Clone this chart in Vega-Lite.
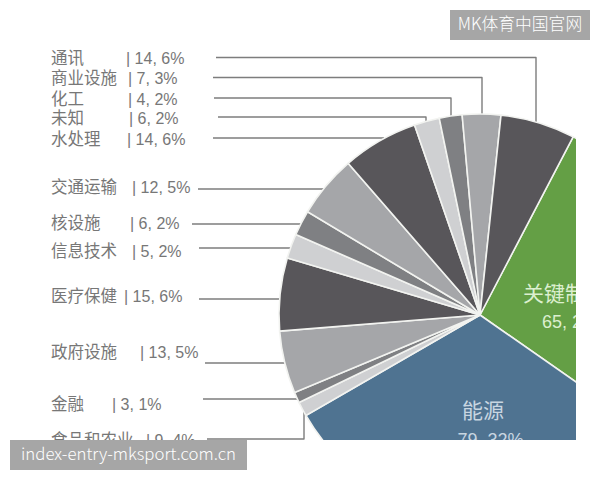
{"$schema":"https://vega.github.io/schema/vega-lite/v6.json","width":576,"height":440,"padding":{"left":0,"top":0,"right":24,"bottom":40},"autosize":{"type":"none"},"background":"#ffffff","config":{"view":{"stroke":null}},
"datasets":{
"slices":[
{"ord":1,"name":"关键制造业","value":65,"pct":26,"span":97.3},
{"ord":2,"name":"能源","value":79,"pct":32,"span":115.1},
{"ord":3,"name":"食品和农业","value":9,"pct":4,"span":4.2},
{"ord":4,"name":"金融","value":3,"pct":1,"span":3.1},
{"ord":5,"name":"政府设施","value":13,"pct":5,"span":18.1},
{"ord":6,"name":"医疗保健","value":15,"pct":6,"span":21.1},
{"ord":7,"name":"信息技术","value":5,"pct":2,"span":7.1},
{"ord":8,"name":"核设施","value":6,"pct":2,"span":7.3},
{"ord":9,"name":"交通运输","value":12,"pct":5,"span":18.1},
{"ord":10,"name":"水处理","value":14,"pct":6,"span":22},
{"ord":11,"name":"未知","value":6,"pct":2,"span":7.3},
{"ord":12,"name":"化工","value":4,"pct":2,"span":6.6},
{"ord":13,"name":"商业设施","value":7,"pct":3,"span":11.1},
{"ord":14,"name":"通讯","value":14,"pct":6,"span":21.6}],
"labels":[
{"name":"通讯","text":"| 14, 6%","nameY":59,"valueX":126},
{"name":"商业设施","text":"| 7, 3%","nameY":79,"valueX":128},
{"name":"化工","text":"| 4, 2%","nameY":100,"valueX":128},
{"name":"未知","text":"| 6, 2%","nameY":119,"valueX":129},
{"name":"水处理","text":"| 14, 6%","nameY":140,"valueX":127},
{"name":"交通运输","text":"| 12, 5%","nameY":188,"valueX":132},
{"name":"核设施","text":"| 6, 2%","nameY":224,"valueX":130},
{"name":"信息技术","text":"| 5, 2%","nameY":252,"valueX":132},
{"name":"医疗保健","text":"| 15, 6%","nameY":297,"valueX":124},
{"name":"政府设施","text":"| 13, 5%","nameY":353,"valueX":140},
{"name":"金融","text":"| 3, 1%","nameY":405,"valueX":112},
{"name":"食品和农业","text":"| 9, 4%","nameY":441,"valueX":146}],
"leaders":[
{"name":"通讯","lx":216,"ly":57.5,"o":1},{"name":"通讯","lx":536,"ly":57.5,"o":2},{"name":"通讯","lx":536,"ly":122,"o":3},
{"name":"商业设施","lx":213,"ly":77.5,"o":1},{"name":"商业设施","lx":482,"ly":77.5,"o":2},{"name":"商业设施","lx":482,"ly":116,"o":3},
{"name":"化工","lx":214,"ly":98,"o":1},{"name":"化工","lx":451,"ly":98,"o":2},{"name":"化工","lx":451,"ly":118,"o":3},
{"name":"未知","lx":218,"ly":117,"o":1},{"name":"未知","lx":426,"ly":117,"o":2},{"name":"未知","lx":426,"ly":124,"o":3},
{"name":"水处理","lx":213,"ly":138,"o":1},{"name":"水处理","lx":384,"ly":138,"o":2},
{"name":"交通运输","lx":198,"ly":189,"o":1},{"name":"交通运输","lx":326,"ly":189,"o":2},
{"name":"核设施","lx":192,"ly":224,"o":1},{"name":"核设施","lx":302,"ly":224,"o":2},
{"name":"信息技术","lx":199,"ly":248,"o":1},{"name":"信息技术","lx":292,"ly":248,"o":2},
{"name":"医疗保健","lx":199,"ly":299,"o":1},{"name":"医疗保健","lx":282,"ly":299,"o":2},
{"name":"政府设施","lx":205,"ly":363,"o":1},{"name":"政府设施","lx":286,"ly":363,"o":2},
{"name":"金融","lx":203,"ly":399,"o":1},{"name":"金融","lx":300,"ly":399,"o":2},
{"name":"食品和农业","lx":207,"ly":439,"o":1},{"name":"食品和农业","lx":304,"ly":439,"o":2},{"name":"食品和农业","lx":304,"ly":412,"o":3}],
"innerNames":[
{"text":"关键制造业","cx":575.5,"cy":295,"kind":"g"},
{"text":"能源","cx":483,"cy":412,"kind":"b"}],
"innerValues":[
{"text":"65, 26%","cx":575,"cy":323,"kind":"g"},
{"text":"79, 32%","cx":490.5,"cy":441,"kind":"b"}],
"marks":[
{"text":"MK体育中国官网","x0":450,"x1":590,"y0":10,"y1":40,"cx":520,"cy":25},
{"text":"index-entry-mksport.com.cn","x0":10,"x1":247,"y0":440,"y1":470,"cx":128.5,"cy":455}]
},
"resolve":{"scale":{"color":"independent"}},
"encoding":{
"x":{"type":"quantitative","scale":{"domain":[0,576],"range":[0,576],"nice":false,"zero":false},"axis":null},
"y":{"type":"quantitative","scale":{"domain":[0,440],"range":[0,440],"nice":false,"zero":false},"axis":null}},
"layer":[
{"data":{"name":"leaders"},"mark":{"type":"line","stroke":"#7d7d7d","strokeWidth":1.4,"strokeJoin":"round"},
"encoding":{"x":{"field":"lx","type":"quantitative"},"y":{"field":"ly","type":"quantitative"},"detail":{"field":"name"},"order":{"field":"o"}}},
{"data":{"name":"slices"},"mark":{"type":"arc","outerRadius":201,"stroke":"#f2f3f0","strokeWidth":1.6,"clip":true},
"encoding":{"x":{"datum":480,"type":"quantitative"},"y":{"datum":315,"type":"quantitative"},
"theta":{"field":"span","type":"quantitative","stack":true,"scale":{"domain":[0,360],"range":[0.4817,6.7649]}},
"order":{"field":"ord"},
"color":{"field":"name","type":"nominal","legend":null,"scale":{"domain":["关键制造业","能源","食品和农业","金融","政府设施","医疗保健","信息技术","核设施","交通运输","水处理","未知","化工","商业设施","通讯"],"range":["#649f45","#4f7391","#cfd0d2","#7f8083","#a5a6a9","#58565a","#cfd0d2","#7f8083","#a5a6a9","#58565a","#cfd0d2","#7f8083","#a5a6a9","#58565a"]}}}},
{"data":{"name":"labels"},"mark":{"type":"text","align":"left","baseline":"middle","fontSize":16.5,"font":"Noto Sans CJK SC","fill":"#777777","clip":true},
"encoding":{"x":{"datum":51,"type":"quantitative"},"y":{"field":"nameY","type":"quantitative"},"text":{"field":"name"}}},
{"data":{"name":"labels"},"mark":{"type":"text","align":"left","baseline":"middle","fontSize":16,"font":"Liberation Sans","fill":"#777777","clip":true},
"encoding":{"x":{"field":"valueX","type":"quantitative"},"y":{"field":"nameY","type":"quantitative"},"text":{"field":"text"}}},
{"data":{"name":"innerNames"},"mark":{"type":"text","align":"center","baseline":"middle","fontSize":21,"font":"Noto Sans CJK SC","clip":true},
"encoding":{"x":{"field":"cx","type":"quantitative"},"y":{"field":"cy","type":"quantitative"},"text":{"field":"text"},
"color":{"field":"kind","type":"nominal","legend":null,"scale":{"domain":["g","b"],"range":["#dcefcf","#c8d6e1"]}}}},
{"data":{"name":"innerValues"},"mark":{"type":"text","align":"center","baseline":"middle","fontSize":18,"font":"Liberation Sans","clip":true},
"encoding":{"x":{"field":"cx","type":"quantitative"},"y":{"field":"cy","type":"quantitative"},"text":{"field":"text"},
"color":{"field":"kind","type":"nominal","legend":null,"scale":{"domain":["g","b"],"range":["#dcefcf","#c8d6e1"]}}}},
{"data":{"name":"marks"},"mark":{"type":"rect","fill":"#a6a6a6"},
"encoding":{"x":{"field":"x0","type":"quantitative"},"x2":{"field":"x1"},"y":{"field":"y0","type":"quantitative"},"y2":{"field":"y1"}}},
{"data":{"name":"marks"},"mark":{"type":"text","align":"center","baseline":"middle","fontSize":16.8,"font":"Noto Sans CJK SC","fontWeight":300,"fill":"#ffffff"},
"encoding":{"x":{"field":"cx","type":"quantitative"},"y":{"field":"cy","type":"quantitative"},"text":{"field":"text"}}}
]}
